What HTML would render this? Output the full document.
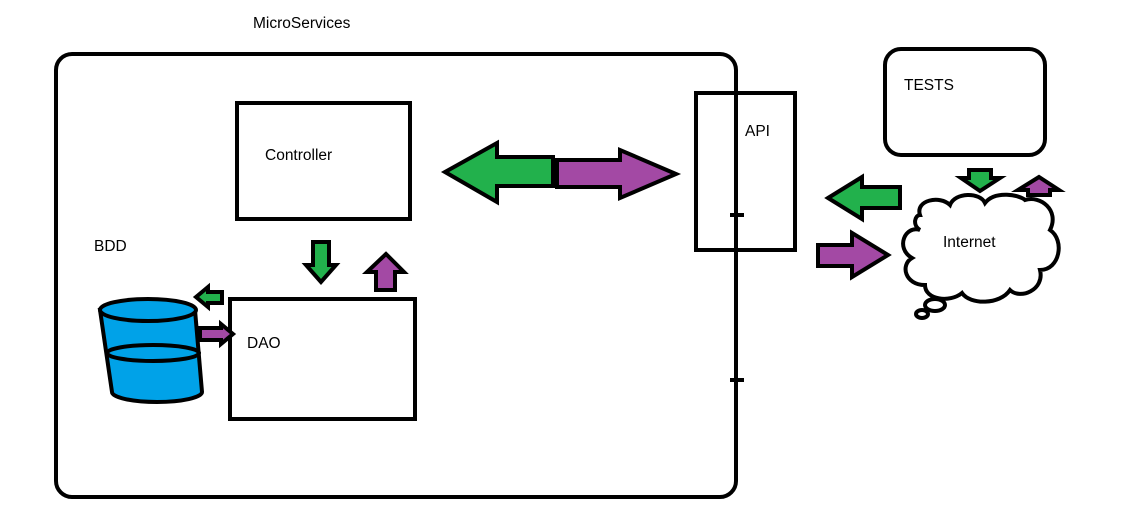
<!DOCTYPE html>
<html><head><style>html,body{margin:0;padding:0;background:#fff;width:1145px;height:512px;overflow:hidden}</style></head>
<body>
<svg width="1145" height="512" xmlns="http://www.w3.org/2000/svg" font-family="Liberation Sans, sans-serif" font-size="15.5">
<g fill="none" stroke="#000" stroke-width="4">
<rect x="56" y="54" width="680" height="443" rx="16"/>
<rect x="237" y="103" width="173" height="116"/>
<rect x="230" y="299" width="185" height="120"/>
<rect x="696" y="93" width="99" height="157"/>
<rect x="885" y="49" width="160" height="106" rx="16"/>
<line x1="730" y1="215" x2="744" y2="215"/>
<line x1="730" y1="380" x2="744" y2="380"/>
</g>
<g stroke="#000" stroke-width="4" stroke-linejoin="miter">
<polygon fill="#22b14c" points="445,172 497,143 497,157 553,157 553,186 497,186 497,202"/>
<polygon fill="#a349a4" points="676,174 620,150 620,160 557,160 557,187 620,187 620,198"/>
<polygon fill="#22b14c" points="321,282 306,265 313,265 313,242 329,242 329,265 336,265"/>
<polygon fill="#a349a4" points="386,254 367,272 376,272 376,290 395,290 395,272 404,272"/>
<polygon fill="#22b14c" points="196,297 208,287 208,292 222,292 222,303 208,303 208,307"/>
<polygon fill="#a349a4" points="233,334 221,324 221,328 200,328 200,340 221,340 221,344"/>
<polygon fill="#22b14c" points="828,198 862,177 862,187 900,187 900,208 862,208 862,219"/>
<polygon fill="#a349a4" points="888,255 852,233 852,245 818,245 818,266 852,266 852,277"/>
<polygon fill="#22b14c" points="980,191 961,178 969,178 969,170 991,170 991,178 1000,178"/>
<polygon fill="#a349a4" points="1039,177 1018,190 1028,190 1028,195 1050,195 1050,190 1059,190"/>
</g>
<g stroke="#000" stroke-width="4">
<path d="M100,310 L112,392 A45,10 0 0 0 202,392 L195,310 Z" fill="#00a2e8"/>
<ellipse cx="148" cy="310" rx="48" ry="11" fill="#00a2e8"/>
<path d="M107,353 A46,8 0 0 1 199,353 A46,8 0 0 1 107,353" fill="none"/>
</g>
<g stroke="#000" stroke-width="4" fill="#fff">
<path d="M920,215 C915,200 940,195 950,205 C955,192 980,192 985,203 C995,190 1020,195 1025,200 C1040,195 1060,210 1050,230 C1065,240 1060,270 1040,270 C1045,290 1020,300 1010,290 C1000,305 970,305 962,293 C950,303 925,300 925,285 C905,285 900,265 912,258 C895,248 905,225 920,230 C912,225 915,215 920,215 Z"/>
<ellipse cx="935" cy="305" rx="10" ry="6"/>
<ellipse cx="922" cy="314" rx="6" ry="4"/>
</g>
<g fill="#000">
<text x="253" y="28">MicroServices</text>
<text x="265" y="160">Controller</text>
<text x="94" y="251">BDD</text>
<text x="247" y="348">DAO</text>
<text x="745" y="136">API</text>
<text x="904" y="90">TESTS</text>
<text x="943" y="247">Internet</text>
</g>
</svg>
</body></html>
